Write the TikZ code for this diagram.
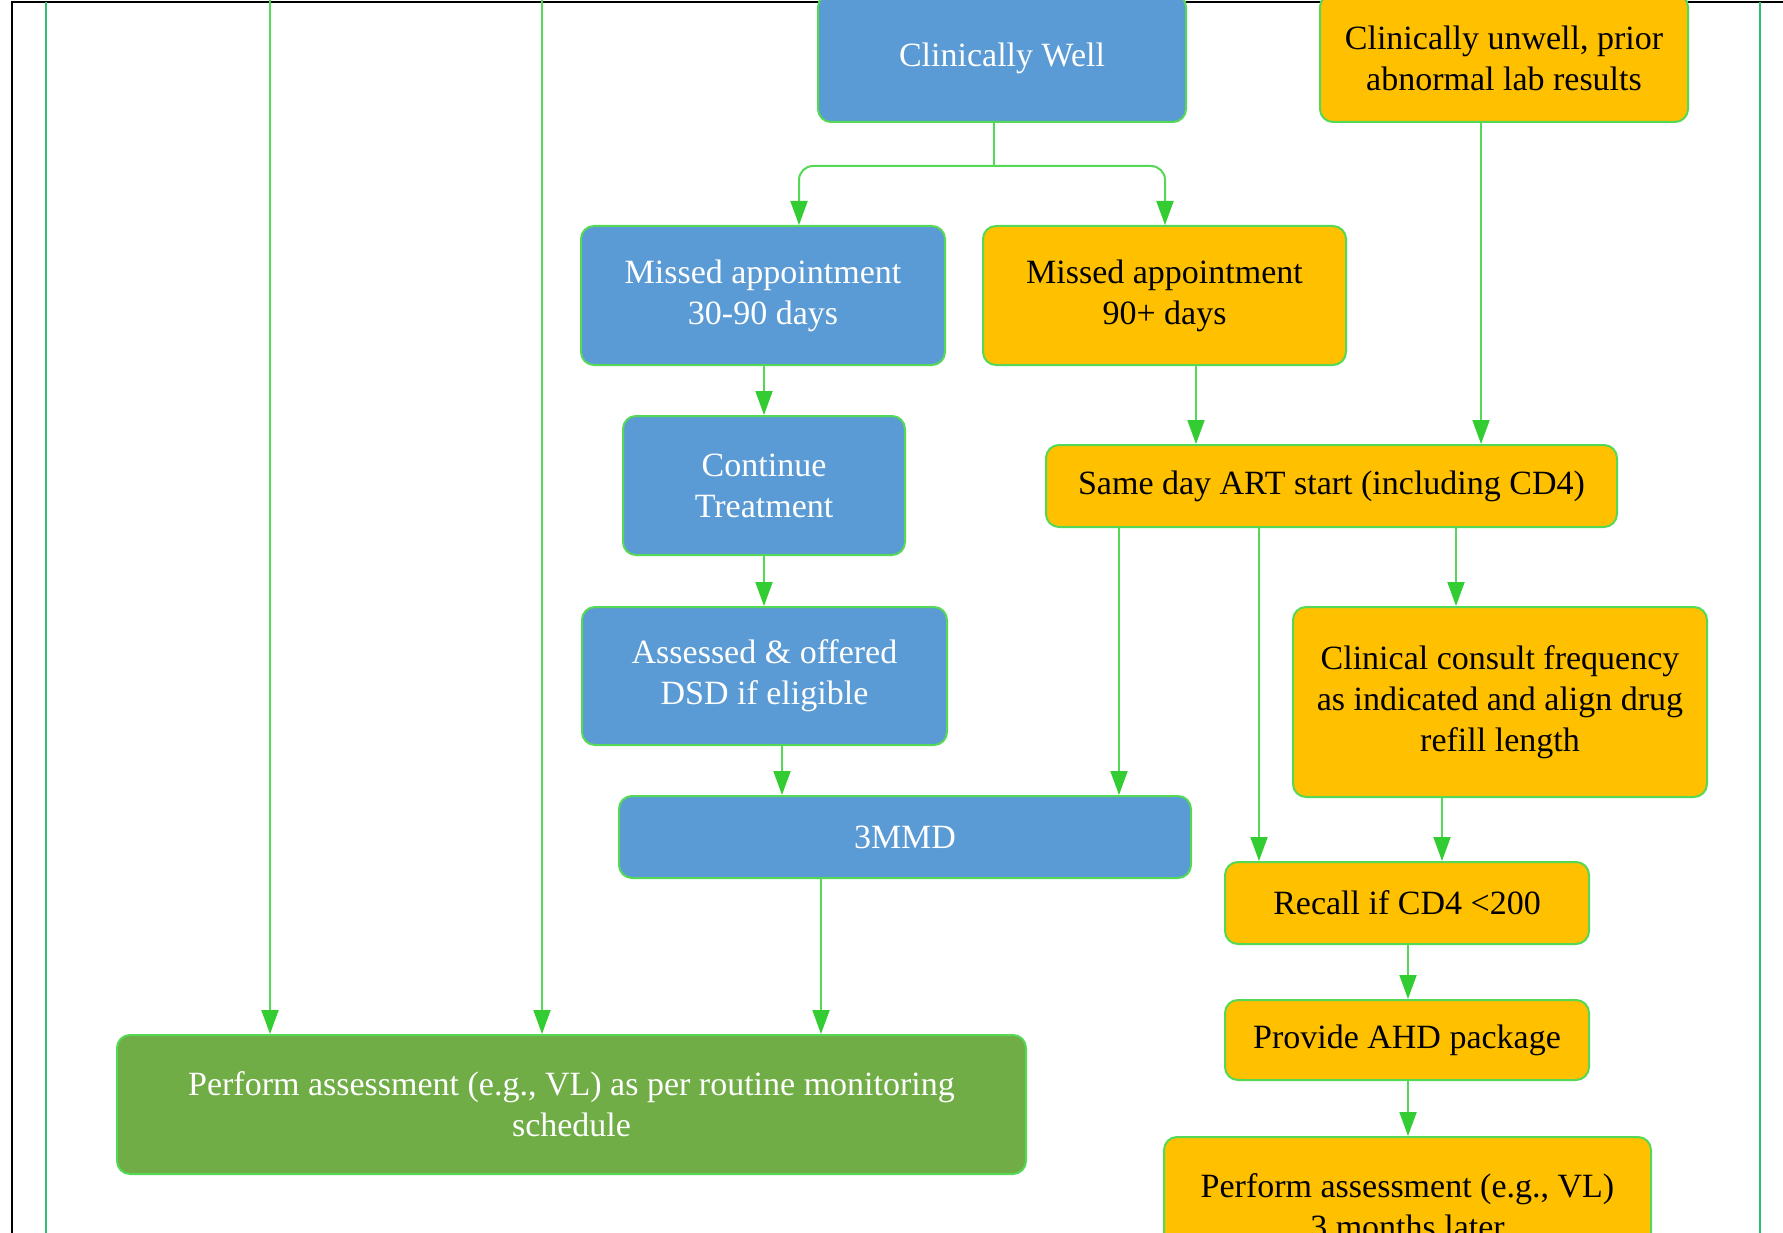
\documentclass[tikz,border=0pt]{standalone}
\usepackage{fontspec}
\setmainfont{Liberation Serif}
\usetikzlibrary{arrows.meta}
\definecolor{bluebox}{HTML}{5B9BD5}
\definecolor{orangebox}{HTML}{FFC000}
\definecolor{greenbox}{HTML}{70AD47}
\definecolor{edgec}{HTML}{55D855}
\definecolor{arrowc}{HTML}{33CC33}
\definecolor{frameg}{HTML}{2DBE6E}
\begin{document}
\begin{tikzpicture}[x=1pt,y=-1pt,
  box/.style={draw=edgec, line width=2pt, rounded corners=13pt, inner sep=0pt,
    align=center, font=\fontsize{34}{41}\selectfont},
  bbox/.style={box, fill=bluebox, text=white},
  obox/.style={box, fill=orangebox, text=black},
  gbox/.style={box, fill=greenbox, text=white},
  conn/.style={draw=edgec, line width=2pt},
  arr/.style={conn, -{Triangle[length=24pt,width=17pt,color=arrowc]}},
]
\useasboundingbox (0,0) rectangle (1783,1233);
% frame
\draw[black, line width=2pt] (12,1240) -- (12,2) -- (1790,2);
\draw[frameg, line width=2.5pt] (46,2) -- (46,1240);
\draw[frameg, line width=2.5pt] (1760,2) -- (1760,1240);

% nodes
\node[bbox, minimum width=368pt, minimum height=128pt] (cw) at (1002,58) {Clinically Well};
\node[obox, minimum width=368pt, minimum height=128pt] (cu) at (1504,58) {Clinically unwell, prior\\abnormal lab results};
\node[bbox, minimum width=364pt, minimum height=139pt] (m30) at (763,295.5) {Missed appointment\\30-90 days};
\node[obox, minimum width=363pt, minimum height=139pt] (m90) at (1164.5,295.5) {Missed appointment\\90+ days};
\node[bbox, minimum width=282pt, minimum height=139pt] (ct) at (764,485.5) {Continue\\Treatment};
\node[obox, minimum width=571pt, minimum height=82pt] (sd) at (1331.5,486) {Same day ART start (including CD4)};
\node[bbox, minimum width=365pt, minimum height=138pt] (as) at (764.5,676) {Assessed \& offered\\DSD if eligible};
\node[obox, minimum width=414pt, minimum height=190pt] (cc) at (1500,702) {Clinical consult frequency\\as indicated and align drug\\refill length};
\node[bbox, minimum width=572pt, minimum height=82pt] (mmd) at (905,837) {3MMD};
\node[obox, minimum width=364pt, minimum height=82pt] (rc) at (1407,903) {Recall if CD4 <200};
\node[obox, minimum width=364pt, minimum height=80pt] (ahd) at (1407,1040) {Provide AHD package};
\node[gbox, minimum width=909pt, minimum height=139pt] (gr) at (571.5,1104.5) {Perform assessment (e.g., VL) as per routine monitoring\\schedule};
\node[obox, minimum width=487pt, minimum height=139pt] (pf) at (1407.5,1206.5) {Perform assessment (e.g., VL)\\3 months later};

% column coordinates
\coordinate (t1) at (270,0);
\coordinate (t2) at (542,0);
\coordinate (sp) at (994,166);
\coordinate (xa) at (799,0);
\coordinate (xb) at (1165,0);
\coordinate (x764) at (764,0);
\coordinate (x782) at (782,0);
\coordinate (x1196) at (1196,0);
\coordinate (x1481) at (1481,0);
\coordinate (x1119) at (1119,0);
\coordinate (x1259) at (1259,0);
\coordinate (x1456) at (1456,0);
\coordinate (x1442) at (1442,0);
\coordinate (x821) at (821,0);
\coordinate (x1408) at (1408,0);

% connectors
\draw[arr] (t1) -- (t1 |- gr.north);
\draw[arr] (t2) -- (t2 |- gr.north);
\draw[conn] (cw.south -| sp) -- (sp);
\draw[arr, rounded corners=14pt] (sp) -| (m30.north -| xa);
\draw[arr, rounded corners=14pt] (sp) -| (m90.north -| xb);
\draw[arr] (m30.south -| x764) -- (ct.north -| x764);
\draw[arr] (ct.south -| x764) -- (as.north -| x764);
\draw[arr] (as.south -| x782) -- (mmd.north -| x782);
\draw[arr] (m90.south -| x1196) -- (sd.north -| x1196);
\draw[arr] (cu.south -| x1481) -- (sd.north -| x1481);
\draw[arr] (sd.south -| x1119) -- (mmd.north -| x1119);
\draw[arr] (sd.south -| x1259) -- (rc.north -| x1259);
\draw[arr] (sd.south -| x1456) -- (cc.north -| x1456);
\draw[arr] (cc.south -| x1442) -- (rc.north -| x1442);
\draw[arr] (mmd.south -| x821) -- (gr.north -| x821);
\draw[arr] (rc.south -| x1408) -- (ahd.north -| x1408);
\draw[arr] (ahd.south -| x1408) -- (pf.north -| x1408);
\end{tikzpicture}
\end{document}
